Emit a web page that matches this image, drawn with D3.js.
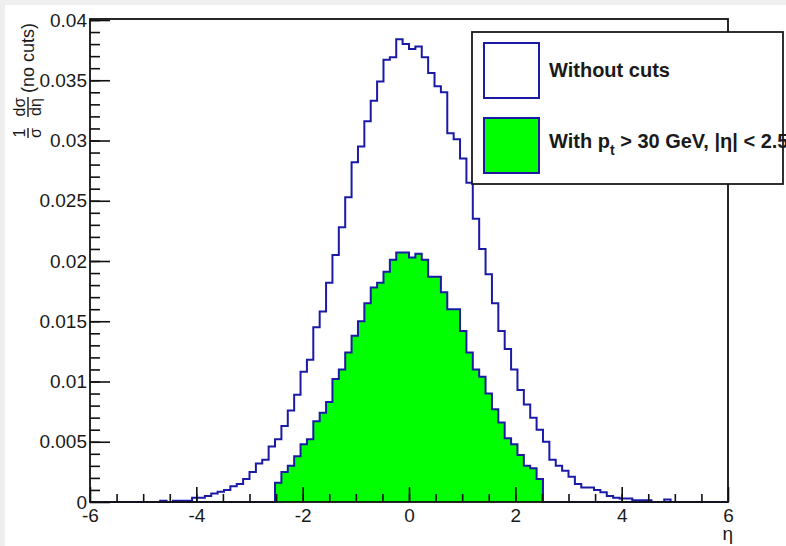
<!DOCTYPE html>
<html>
<head>
<meta charset="utf-8">
<script src="https://cdn.jsdelivr.net/npm/d3@7"></script>
<style>
body { margin: 0; background: #efefef; }
svg { display: block; font-family: "Liberation Sans", Arial, sans-serif; }
</style>
</head>
<body>
<svg id="chart" width="786" height="546"></svg>
<script>
// eta histogram, 100 bins from -6 to 6
const ETA_MIN = -6;
const ETA_MAX = 6;
const N_BINS = 100;

// 1/sigma dsigma/deta, no cuts
const noCuts = [
    0, 0, 0, 0, 0, 0, 0, 0, 0, 0,
    0, 0.0001, 0, 0.0001, 0.0001, 0.0001, 0.00035, 0.00035, 0.0005, 0.0007,
    0.00085, 0.001, 0.0013, 0.0015, 0.0019, 0.0025, 0.0032, 0.0035, 0.0046, 0.0052,
    0.0063, 0.0076, 0.0089, 0.0108, 0.0118, 0.0145, 0.0158, 0.0182, 0.0205, 0.0228,
    0.0253, 0.0282, 0.0295, 0.0316, 0.0333, 0.0349, 0.0367, 0.0369, 0.0384, 0.0380,
    0.0376, 0.0378, 0.0369, 0.0356, 0.0345, 0.0340, 0.0306, 0.0301, 0.0285, 0.0265,
    0.0235, 0.0210, 0.0189, 0.0165, 0.0142, 0.0127, 0.0110, 0.0093, 0.0081, 0.0070,
    0.0060, 0.0050, 0.0035, 0.0030, 0.0026, 0.0021, 0.0015, 0.0012, 0.0012, 0.0010,
    0.0008, 0.0005, 0.00035, 0.0003, 0.0003, 0.00015, 0.00015, 0.00015, 0, 0,
    0.0002, 0, 0, 0, 0, 0, 0, 0, 0, 0
];

// same normalisation, with pt > 30 GeV and |eta| < 2.5
const withCuts = [
    0, 0, 0, 0, 0, 0, 0, 0, 0, 0,
    0, 0, 0, 0, 0, 0, 0, 0, 0, 0,
    0, 0, 0, 0, 0, 0, 0, 0, 0, 0.0016,
    0.0025, 0.0030, 0.0038, 0.0048, 0.0052, 0.0067, 0.0074, 0.0083, 0.0102, 0.0110,
    0.0124, 0.0138, 0.0150, 0.0165, 0.0178, 0.0182, 0.0191, 0.0201, 0.0207, 0.0207,
    0.0203, 0.0206, 0.0201, 0.0187, 0.0187, 0.0174, 0.0160, 0.0160, 0.0142, 0.0124,
    0.0110, 0.0104, 0.0090, 0.0077, 0.0066, 0.0053, 0.0048, 0.0039, 0.0030, 0.0028,
    0.0019, 0, 0, 0, 0, 0, 0, 0, 0, 0,
    0, 0, 0, 0, 0, 0, 0, 0, 0, 0,
    0, 0, 0, 0, 0, 0, 0, 0, 0, 0
];

const xMajor = [-6, -4, -2, 0, 2, 4, 6];
const xMinor = d3.range(-5.5, 6, 0.5);
const yMajor = [0, 0.005, 0.01, 0.015, 0.02, 0.025, 0.03, 0.035, 0.04];
const yMinor = d3.range(0.001, 0.0401, 0.001);
const legendLabels = ["Without cuts", "With p", "t", " > 30 GeV, |\u03b7| < 2.5"];

const LINE_BLUE = "#1a1aa6";
const FILL_GREEN = "#00ff00";

const svg = d3.select("#chart");
const frame = {left: 90, right: 728, top: 19, bottom: 502};

const x = d3.scaleLinear().domain([ETA_MIN, ETA_MAX]).range([frame.left, frame.right]);
const y = d3.scaleLinear().domain([0, 0.04]).range([frame.bottom, 20]);

// white pad with a thin grey margin like the screenshot
svg.append("rect")
    .attr("x", 5).attr("y", 5)
    .attr("width", 781).attr("height", 541)
    .attr("fill", "white");

function stepPoints(values) {
    const w = (ETA_MAX - ETA_MIN) / N_BINS;
    const pts = [[ETA_MIN, 0]];
    values.forEach((v, i) => {
        const lo = ETA_MIN + i * w;
        pts.push([lo, v], [lo + w, v]);
    });
    pts.push([ETA_MAX, 0]);
    return pts;
}

const stepLine = d3.line().x(d => x(d[0])).y(d => y(d[1]));
const stepArea = d3.area().x(d => x(d[0])).y0(y(0)).y1(d => y(d[1]));

svg.append("path")
    .attr("d", stepLine(stepPoints(noCuts)))
    .attr("fill", "none")
    .attr("stroke", LINE_BLUE)
    .attr("stroke-width", 2);

svg.append("path")
    .attr("d", stepArea(stepPoints(withCuts)))
    .attr("fill", FILL_GREEN);

svg.append("path")
    .attr("d", stepLine(stepPoints(withCuts)))
    .attr("fill", "none")
    .attr("stroke", LINE_BLUE)
    .attr("stroke-width", 2);

// axes (plain hyphen minus, like ROOT)
const plainNum = d => String(d);

function styleAxis(g) {
    g.select(".domain").remove();
    g.selectAll("line").attr("stroke", "#111").attr("stroke-width", 1.6);
    g.selectAll("text")
        .attr("fill", "#1a1a1a")
        .style("font-size", "19px")
        .style("font-family", "\"Liberation Sans\", Arial, sans-serif");
}

svg.append("g")
    .attr("transform", `translate(0,${frame.bottom})`)
    .call(d3.axisBottom(x).tickValues(xMinor).tickSize(-8).tickFormat(""))
    .call(styleAxis);

svg.append("g")
    .attr("transform", `translate(0,${frame.bottom})`)
    .call(d3.axisBottom(x).tickValues(xMajor).tickSize(-15).tickPadding(7).tickFormat(plainNum))
    .call(styleAxis);

svg.append("g")
    .attr("transform", `translate(${frame.left},0)`)
    .call(d3.axisLeft(y).tickValues(yMinor).tickSize(-10).tickFormat(""))
    .call(styleAxis);

svg.append("g")
    .attr("transform", `translate(${frame.left},0)`)
    .call(d3.axisLeft(y).tickValues(yMajor).tickSize(-20).tickPadding(3).tickFormat(plainNum))
    .call(styleAxis);

svg.append("rect")
    .attr("x", frame.left).attr("y", frame.top)
    .attr("width", frame.right - frame.left)
    .attr("height", frame.bottom - frame.top)
    .attr("fill", "none")
    .attr("stroke", "#111")
    .attr("stroke-width", 1.8);

// x title
svg.append("text")
    .attr("x", 733).attr("y", 540)
    .attr("text-anchor", "end")
    .attr("fill", "#1a1a1a")
    .style("font-size", "19px")
    .text("\u03b7");

// y title: 1/sigma dsigma/deta (no cuts), rotated
const yTitle = svg.append("g")
    .attr("transform", "translate(28,140) rotate(-90)")
    .attr("fill", "#1a1a1a");

function fraction(g, cx, num, den, half) {
    g.append("text").attr("x", cx).attr("y", -3).attr("text-anchor", "middle")
        .style("font-size", "16px").text(num);
    g.append("text").attr("x", cx).attr("y", 13).attr("text-anchor", "middle")
        .style("font-size", "16px").text(den);
    g.append("line")
        .attr("x1", cx - half).attr("x2", cx + half)
        .attr("y1", 0).attr("y2", 0)
        .attr("stroke", "#1a1a1a").attr("stroke-width", 1.4);
}
fraction(yTitle, 7, "1", "\u03c3", 5);
fraction(yTitle, 33, "d\u03c3", "d\u03b7", 10);
yTitle.append("text")
    .attr("x", 47).attr("y", 6)
    .style("font-size", "18px")
    .text("(no cuts)");

// legend
const legend = svg.append("g");
legend.append("rect")
    .attr("x", 472).attr("y", 32)
    .attr("width", 311).attr("height", 152)
    .attr("fill", "white")
    .attr("stroke", "#1a1a1a")
    .attr("stroke-width", 1.8);

legend.append("rect")
    .attr("x", 484).attr("y", 43).attr("width", 55).attr("height", 55)
    .attr("fill", "white").attr("stroke", LINE_BLUE).attr("stroke-width", 2);
legend.append("rect")
    .attr("x", 484).attr("y", 118).attr("width", 55).attr("height", 55)
    .attr("fill", FILL_GREEN).attr("stroke", LINE_BLUE).attr("stroke-width", 2);

legend.append("text")
    .attr("x", 549).attr("y", 77)
    .attr("fill", "#1a1a1a")
    .style("font-size", "20px").style("font-weight", "bold")
    .text(legendLabels[0]);

const lab2 = legend.append("text")
    .attr("x", 549).attr("y", 148)
    .attr("fill", "#1a1a1a")
    .style("font-size", "20px").style("font-weight", "bold");
lab2.append("tspan").text(legendLabels[1]);
lab2.append("tspan").attr("dy", 7).style("font-size", "14px").text(legendLabels[2]);
lab2.append("tspan").attr("dy", -7).text(legendLabels[3]);
</script>
</body>
</html>
